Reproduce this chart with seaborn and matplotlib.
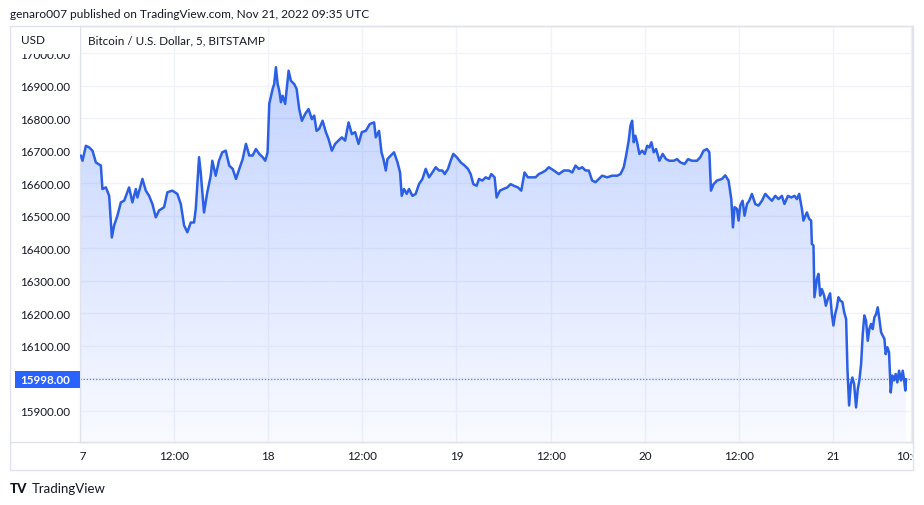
import numpy as np
import pandas as pd
import matplotlib
matplotlib.use("Agg")
import matplotlib.pyplot as plt
from matplotlib.patches import Rectangle
from matplotlib.lines import Line2D
import seaborn as sns

# hours since 2022-11-17 00:00 UTC, BTC/USD 5 min close
hours = [0.11, 0.32, 0.75, 1.17, 1.59, 2.02, 2.66, 2.86, 3.30, 3.72, 4.06, 4.35, 4.77, 5.21, 5.63,
         6.26, 6.68, 7.12, 7.32, 7.96, 8.39, 8.81, 9.23, 9.66, 10.08, 10.72, 11.14, 11.78, 12.41,
         12.85, 13.27, 13.69, 14.12, 14.54, 14.76, 15.18, 15.39, 15.81, 16.23, 16.67, 16.87, 17.30,
         17.72, 18.14, 18.58, 19.03, 19.47, 19.89, 20.31, 20.74, 21.16, 21.58, 22.01, 22.43, 22.85,
         23.29, 23.62, 23.92, 24.13, 24.56, 24.76, 24.98, 25.20, 25.40, 25.62, 25.83, 26.16, 26.60,
         26.89, 27.31, 27.62, 27.95, 28.29, 28.71, 29.14, 29.56, 29.86, 30.16, 30.49, 30.93, 31.35,
         31.69, 32.11, 32.53, 32.96, 33.38, 33.80, 34.24, 34.66, 35.08, 35.51, 35.93, 36.44, 36.95,
         37.50, 37.71, 38.13, 38.44, 38.69, 38.99, 39.20, 39.62, 40.04, 40.48, 40.81, 41.02, 41.31,
         41.66, 41.95, 42.38, 42.80, 43.22, 43.66, 44.08, 44.50, 44.93, 45.35, 45.77, 46.20, 46.50,
         46.92, 47.26, 47.60, 48.03, 48.54, 49.05, 49.46, 49.81, 50.15, 50.57, 50.87, 51.30, 51.72,
         52.14, 52.44, 52.86, 53.12, 53.54, 53.97, 54.48, 54.90, 55.32, 55.83, 56.26, 56.68, 57.10,
         57.54, 58.08, 58.50, 58.94, 59.36, 59.78, 60.41, 61.05, 61.69, 62.32, 62.76, 63.18, 63.60,
         64.03, 64.45, 64.87, 65.30, 65.72, 66.14, 66.58, 67.21, 67.85, 68.49, 68.91, 69.33, 69.63,
         69.96, 70.18, 70.40, 70.60, 70.81, 71.03, 71.32, 71.67, 72.00, 72.31, 72.60, 72.85, 73.15,
         73.45, 73.87, 74.29, 74.72, 75.14, 75.69, 76.12, 76.54, 77.09, 77.53, 78.03, 78.67, 79.09,
         79.51, 79.94, 80.24, 80.45, 80.78, 81.22, 81.85, 82.27, 82.69, 83.04, 83.25, 83.46, 83.76,
         83.97, 84.18, 84.48, 84.73, 85.04, 85.33, 85.67, 86.09, 86.51, 86.95, 87.37, 87.79, 88.22,
         88.64, 89.06, 89.49, 89.82, 90.26, 90.68, 91.10, 91.40, 91.70, 92.04, 92.24, 92.68, 92.97,
         93.22, 93.31, 93.52, 93.64, 93.95, 94.15, 94.37, 94.59, 94.88, 95.10, 95.35, 95.64, 95.86,
         96.06, 96.28, 96.50, 96.70, 96.92, 97.21, 97.43, 97.68, 97.85, 98.06, 98.28, 98.48, 98.70,
         98.95, 99.17, 99.37, 99.59, 99.80, 100.00, 100.22, 100.44, 100.64, 100.86, 101.07, 101.28,
         101.50, 101.71, 101.92, 102.14, 102.35, 102.56, 102.73, 102.94, 103.15, 103.37, 103.57,
         103.79, 104.00, 104.21, 104.43, 104.68, 104.90, 105.06, 105.23, 105.32]
price = [16686, 16670, 16716, 16711, 16701, 16665, 16655, 16583, 16588, 16562, 16434, 16471, 16501,
         16542, 16547, 16588, 16542, 16583, 16557, 16614, 16578, 16562, 16537, 16496, 16517, 16527,
         16573, 16578, 16568, 16537, 16471, 16450, 16480, 16480, 16522, 16681, 16634, 16511, 16573,
         16624, 16670, 16624, 16670, 16696, 16701, 16655, 16645, 16614, 16645, 16675, 16722, 16686,
         16686, 16706, 16691, 16681, 16670, 16696, 16845, 16891, 16906, 16958, 16906, 16886, 16850,
         16870, 16845, 16947, 16916, 16906, 16891, 16829, 16793, 16814, 16829, 16798, 16809, 16762,
         16768, 16793, 16758, 16737, 16701, 16722, 16732, 16742, 16732, 16788, 16752, 16758, 16722,
         16758, 16762, 16783, 16788, 16742, 16762, 16696, 16675, 16640, 16675, 16686, 16696, 16665,
         16634, 16562, 16583, 16568, 16583, 16562, 16568, 16598, 16614, 16645, 16619, 16634, 16650,
         16640, 16640, 16629, 16645, 16670, 16691, 16681, 16665, 16655, 16645, 16629, 16598, 16593,
         16614, 16609, 16619, 16614, 16629, 16619, 16557, 16578, 16583, 16588, 16598, 16593, 16588,
         16578, 16634, 16619, 16619, 16619, 16629, 16634, 16640, 16650, 16640, 16629, 16640, 16640,
         16634, 16655, 16645, 16650, 16640, 16640, 16609, 16604, 16614, 16624, 16619, 16624, 16624,
         16629, 16650, 16686, 16732, 16778, 16793, 16727, 16747, 16727, 16691, 16701, 16691, 16716,
         16711, 16727, 16696, 16706, 16670, 16691, 16675, 16670, 16670, 16675, 16665, 16660, 16675,
         16670, 16670, 16681, 16701, 16706, 16696, 16578, 16598, 16609, 16614, 16625, 16609, 16552,
         16465, 16527, 16522, 16486, 16532, 16547, 16501, 16537, 16547, 16568, 16537, 16532, 16547,
         16568, 16557, 16547, 16562, 16552, 16562, 16537, 16562, 16557, 16562, 16552, 16568, 16522,
         16486, 16511, 16491, 16486, 16414, 16409, 16250, 16306, 16322, 16255, 16275, 16255, 16224,
         16245, 16262, 16198, 16163, 16198, 16219, 16250, 16240, 16235, 16204, 16183, 16029, 15917,
         15983, 16003, 15983, 15911, 15968, 15994, 16045, 16137, 16194, 16178, 16116, 16152, 16168,
         16152, 16188, 16198, 16219, 16183, 16142, 16132, 16122, 16075, 16096, 16081, 15957, 16009,
         15994, 16014, 15988, 16024, 15994, 16024, 15998, 15963, 15998]
last_price = 15998.00
price_ticks = [15900, 16000, 16100, 16200, 16300, 16400, 16500, 16600, 16700, 16800, 16900, 17000]
time_ticks = [0, 12, 24, 36, 48, 60, 72, 84, 96, 106]
time_labels = ["17", "12:00", "18", "12:00", "19", "12:00", "20", "12:00", "21", "10:00"]

df = pd.DataFrame({"hours": hours, "price": price})

sns.set_theme(style="white")
plt.rcParams["font.family"] = ["Lato", "DejaVu Sans"]

W, H = 924, 506
def px(x, y):
    return x / W, 1 - y / H

BLUE = "#2962ff"
GRID = "#f0f3fa"
BORDER = "#e0e3eb"
TXT = "#131722"

fig = plt.figure(figsize=(W / 100, H / 100), dpi=100)
fig.patch.set_facecolor("white")
ax = fig.add_axes([80 / W, 1 - 443 / H, (912 - 80) / W, (443 - 27) / H])

ax.set_xlim(0.15, 106.08)
ax.set_ylim(15804.6, 17084.6)

# gradient fill under the line
poly = ax.fill_between(df["hours"], df["price"], 15804.6, color="none", lw=0)
grad = np.linspace(0.28, 0.03, 256).reshape(-1, 1)
rgba = np.zeros((256, 1, 4))
rgba[..., 0], rgba[..., 1], rgba[..., 2] = 41 / 255, 98 / 255, 1.0
rgba[..., 3] = grad
img = ax.imshow(rgba, aspect="auto", extent=[0.15, 106.08, 15804.6, max(price)],
                origin="upper", zorder=1)
img.set_clip_path(poly.get_paths()[0], transform=ax.transData)

sns.lineplot(data=df, x="hours", y="price", ax=ax, color="#2b5fe6", lw=1.8, zorder=3)
ax.axhline(last_price, color="#5b7fd6", lw=0.9, ls=(0, (1, 1.5)), zorder=2)

ax.set_xticks(time_ticks)
ax.set_xticklabels(time_labels)
ax.set_yticks(price_ticks)
ax.set_yticklabels([f"{v:.2f}" for v in price_ticks])
ax.tick_params(axis="y", length=0, pad=7, labelsize=8.4, labelcolor=TXT)
ax.tick_params(axis="x", length=0, pad=6, labelsize=8.4, labelcolor=TXT)
ax.grid(True, color=GRID, lw=1, zorder=0)
ax.set_axisbelow(True)
ax.set_xlabel("")
ax.set_ylabel("")
for s in ax.spines.values():
    s.set_color(BORDER)
    s.set_linewidth(1)

# covers to clip labels like the original pane
def cover(x0, y0, x1, y1):
    fig.patches.append(Rectangle(px(x0, y1), (x1 - x0) / W, (y1 - y0) / H,
                                 transform=fig.transFigure, facecolor="white",
                                 edgecolor="none", zorder=2))
cover(10.5, 27.5, 79.5, 54.5)
cover(10.5, 443.5, 79.6, 470.5)
cover(912.5, 443.5, 924, 470.5)

# outer frame and separator
fig.patches.append(Rectangle(px(10, 471), 903 / W, 444 / H, transform=fig.transFigure,
                             facecolor="none", edgecolor=BORDER, lw=1, zorder=3))
fig.lines.append(Line2D([10 / W, 913 / W], [1 - 443 / H] * 2, transform=fig.transFigure,
                        color=BORDER, lw=1, zorder=3))

# last price badge
fig.patches.append(Rectangle(px(15, 388.5), 65 / W, 17 / H, transform=fig.transFigure,
                             facecolor=BLUE, edgecolor="none", zorder=4))
fig.text(*px(70, 380.5), f"{last_price:.2f}", color="white", fontsize=8.4,
         ha="right", va="center", fontweight="bold", zorder=5)

fig.text(*px(10, 14), "genaro007 published on TradingView.com, Nov 21, 2022 09:35 UTC",
         fontsize=8.6, color=TXT, ha="left", va="center")
fig.text(*px(21, 40), "USD", fontsize=8.4, color=TXT, ha="left", va="center", zorder=5)
fig.text(*px(88, 41), "Bitcoin / U.S. Dollar, 5, BITSTAMP", fontsize=8.4, color=TXT,
         ha="left", va="center", zorder=5)
fig.text(*px(10, 489), "TV", fontsize=9.5, fontweight="black", color=TXT,
         ha="left", va="center")
fig.text(*px(32, 489), "TradingView", fontsize=9.5, color=TXT, ha="left", va="center")

fig.savefig("out.png", dpi=100, facecolor="white")
